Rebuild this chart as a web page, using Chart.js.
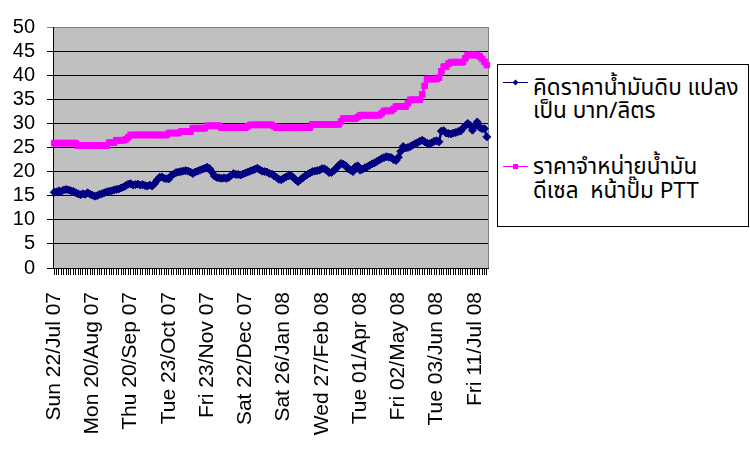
<!DOCTYPE html>
<html><head><meta charset="utf-8">
<script src="https://cdn.jsdelivr.net/npm/chart.js@4"></script>
<style>
html,body{margin:0;padding:0;background:#fff;}
#wrap{position:relative;width:750px;height:453px;overflow:hidden;}
#legend{position:absolute;left:497px;top:64px;width:252px;height:163px;border:1px solid #000;box-sizing:border-box;background:#fff;font-family:Tahoma,'Noto Sans Thai','Leelawadee UI','Noto Sans',sans-serif;font-size:22.5px;color:#000;}
.ln{position:absolute;left:35px;height:24px;line-height:24px;white-space:pre;}
.sw{position:absolute;left:5px;width:25px;height:24px;}
</style>
</head><body>
<div id="wrap">
<canvas id="c" width="750" height="453"></canvas>
<div id="legend"></div>
</div>
<script>
const tickLabels = ['Sun 22/Jul 07','Mon 20/Aug 07','Thu 20/Sep 07','Tue 23/Oct 07','Fri 23/Nov 07','Sat 22/Dec 07','Sat 26/Jan 08','Wed 27/Feb 08','Tue 01/Apr 08','Fri 02/May 08','Tue 03/Jun 08','Fri 11/Jul 08'];
const labelEvery = 16;
const seriesNames = [['คิดราคาน้ำมันดิบ แปลง','เป็น บาท/ลิตร'],['ราคาจำหน่ายน้ำมัน','ดีเซล  หน้าปั๊ม PTT']];
const crudeBaht = [
15.7,15.8,16.0,15.9,16.2,16.3,16.2,16.0,15.9,15.6,
15.4,15.2,15.4,15.3,15.6,15.3,15.1,14.9,15.0,15.3,
15.4,15.6,15.8,15.9,16.0,16.2,16.3,16.4,16.6,16.8,
17.1,17.4,17.5,17.2,17.3,17.4,17.2,17.3,17.1,17.0,
17.2,17.0,17.5,18.2,18.8,18.9,18.6,18.5,18.5,19.2,
19.5,19.8,19.9,20.0,20.1,20.2,20.1,19.9,19.6,19.9,
20.1,20.3,20.5,20.7,20.9,20.6,19.9,19.1,18.8,18.7,
18.6,18.7,18.6,18.8,19.2,19.6,19.4,19.4,19.3,19.5,
19.7,19.9,20.1,20.3,20.5,20.7,20.4,20.1,20.0,19.9,
19.6,19.5,19.1,18.8,18.4,18.3,18.6,18.9,19.1,19.2,
18.8,18.3,17.9,18.3,18.7,19.1,19.4,19.7,20.0,20.1,
20.2,20.3,20.6,20.6,20.3,19.8,19.8,20.2,20.7,21.3,
21.7,21.5,21.2,20.6,20.3,20.0,21.0,21.2,20.3,20.5,
20.8,21.0,21.3,21.6,21.8,22.1,22.4,22.7,22.9,23.1,
23.0,22.9,22.5,22.3,23.0,24.2,25.2,24.9,25.0,25.2,
25.5,25.8,26.0,26.3,26.5,26.2,25.9,25.8,26.0,26.3,
26.4,26.2,28.4,28.5,28.0,27.9,27.8,28.0,28.1,28.3,
28.4,29.0,29.5,30.0,29.6,28.6,29.5,30.3,29.2,28.9,
28.9,27.2];
const dieselPTT = [
25.9,25.9,25.9,25.9,25.9,25.9,25.9,25.9,25.9,25.9,
25.4,25.4,25.4,25.4,25.4,25.4,25.4,25.4,25.4,25.4,
25.4,25.4,25.4,26.0,26.0,26.0,26.5,26.5,26.5,26.5,
26.7,27.1,27.6,27.6,27.6,27.6,27.6,27.6,27.6,27.6,
27.6,27.6,27.6,27.6,27.6,27.6,27.6,27.6,28.0,28.0,
28.0,28.0,28.0,28.3,28.3,28.3,28.3,28.3,29.0,29.0,
29.0,29.0,29.0,29.0,29.5,29.5,29.5,29.5,29.5,29.5,
29.1,29.1,29.1,29.1,29.1,29.1,29.1,29.1,29.1,29.1,
29.1,29.4,29.7,29.7,29.7,29.7,29.7,29.7,29.7,29.7,
29.7,29.7,29.4,29.1,29.1,29.1,29.1,29.1,29.1,29.1,
29.1,29.1,29.1,29.1,29.1,29.1,29.1,29.1,29.8,29.8,
29.8,29.8,29.8,29.8,29.8,29.8,29.8,29.8,29.8,29.8,
30.4,31.0,31.0,31.0,31.0,31.0,31.0,31.3,31.7,31.7,
31.7,31.7,31.7,31.7,31.7,31.7,31.7,32.1,32.6,32.6,
32.6,32.6,33.0,33.5,33.5,33.5,33.5,33.5,34.2,34.9,
34.9,34.9,34.9,34.9,36.0,37.8,39.2,39.2,39.2,39.2,
39.2,39.5,40.8,41.8,41.8,42.4,42.7,42.7,42.7,42.7,
42.7,42.7,43.5,44.2,44.2,44.2,44.2,44.2,43.9,43.4,
42.8,42.1];
const categories = crudeBaht.map((_, i) => i % labelEvery === 0 ? (tickLabels[i / labelEvery] || '') : '');

const colors = ['#000080', '#ff00ff'];
const styles = ['rectRot', 'rect'];
const radii = [4, 4];

const plotBg = {
  id: 'plotBg',
  beforeDraw(chart) {
    const {ctx, chartArea: a} = chart;
    ctx.save();
    ctx.fillStyle = '#c0c0c0';
    ctx.fillRect(a.left, a.top, a.right - a.left, a.bottom - a.top);
    ctx.restore();
  },
  beforeDatasetsDraw(chart) {
    const {ctx, chartArea: a} = chart;
    ctx.save();
    ctx.strokeStyle = '#808080';
    ctx.lineWidth = 1;
    ctx.beginPath();
    ctx.moveTo(Math.round(a.right) + 0.5, a.top);
    ctx.lineTo(Math.round(a.right) + 0.5, a.bottom);
    ctx.stroke();
    ctx.restore();
  }
};

new Chart(document.getElementById('c'), {
  type: 'line',
  data: {
    labels: categories,
    datasets: [
      {label: seriesNames[0].join(' '), data: crudeBaht, borderColor: colors[0], backgroundColor: colors[0], borderWidth: 2.5, pointStyle: styles[0], pointRadius: radii[0], pointBorderWidth: 1, pointBorderColor: colors[0], pointBackgroundColor: colors[0], tension: 0},
      {label: seriesNames[1].join(' '), data: dieselPTT, borderColor: colors[1], backgroundColor: colors[1], borderWidth: 2.5, pointStyle: styles[1], pointRadius: radii[1], pointBorderWidth: 1, pointBorderColor: colors[1], pointBackgroundColor: colors[1], tension: 0}
    ]
  },
  options: {
    responsive: false,
    animation: false,
    events: [],
    layout: {padding: {left: 0, right: 262, top: 27, bottom: 0}},
    plugins: {legend: {display: false}, tooltip: {enabled: false}},
    scales: {
      x: {
        type: 'category',
        offset: true,
        afterFit(s) { s.height = 185; },
        border: {display: true, color: '#000', width: 1},
        grid: {display: true, drawOnChartArea: false, drawTicks: true, tickLength: 7, color: '#000', offset: false},
        ticks: {autoSkip: false, maxRotation: 90, minRotation: 90, padding: 17, color: '#000', font: {family: "'Liberation Sans', Arial, sans-serif", size: 21}}
      },
      y: {
        min: 0, max: 50,
        afterFit(s) { s.width = 53; },
        border: {display: true, color: '#000', width: 1},
        grid: {color: (c) => c.tick && c.tick.value === 50 ? '#808080' : '#000', lineWidth: 1, drawTicks: true, tickLength: 6},
        ticks: {stepSize: 5, autoSkip: false, maxTicksLimit: 20, padding: 12, color: '#000', font: {family: "'Liberation Sans', Arial, sans-serif", size: 20, lineHeight: 1}}
      }
    }
  },
  plugins: [plotBg]
});

// legend (HTML)
const leg = document.getElementById('legend');
const pos = [{sw: 17, lines: [11, 34]}, {sw: 101, lines: [90, 114]}];
seriesNames.forEach((names, k) => {
  const sw = document.createElement('canvas');
  sw.className = 'sw'; sw.width = 25; sw.height = 24; sw.style.top = (pos[k].sw - 12) + 'px';
  const g = sw.getContext('2d');
  g.strokeStyle = colors[k]; g.lineWidth = 1;
  g.beginPath(); g.moveTo(0, 12.5); g.lineTo(25, 12.5); g.stroke();
  g.fillStyle = colors[k];
  if (k === 0) { g.beginPath(); g.moveTo(12.5, 9.5); g.lineTo(15.5, 12.5); g.lineTo(12.5, 15.5); g.lineTo(9.5, 12.5); g.closePath(); g.fill(); }
  else { g.fillRect(10, 10, 5, 5); }
  leg.appendChild(sw);
  names.forEach((t, j) => {
    const d = document.createElement('div');
    d.className = 'ln'; d.textContent = t; d.style.top = pos[k].lines[j] + 'px';
    leg.appendChild(d);
  });
});
</script>
</body></html>
